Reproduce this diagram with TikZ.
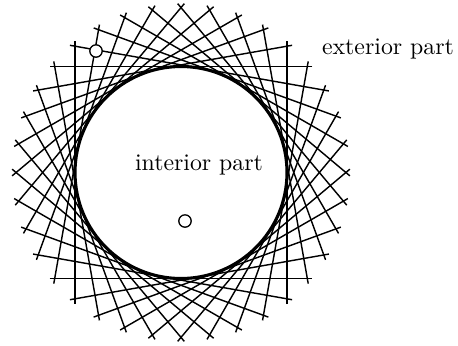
\documentclass[tikz,border=0pt]{standalone}
\begin{document}
\begin{tikzpicture}[x=0.42pt,y=-0.42pt,
  tline/.style={line width=0.6pt},
  bigcirc/.style={line width=1.3pt},
  dot/.style={circle,draw,line width=0.55pt,fill=white,minimum size=5.2pt,inner sep=0pt},
  lbl/.style={inner sep=0pt}]
\useasboundingbox (0,0) rectangle (458,345);
\coordinate (c) at (181,172.5);
\foreach \a in {0,10,...,350}{
  \draw[tline,shift={(c)}] (\a+51.13:168.9) -- (\a-51.13:168.9);
}
\draw[bigcirc] (c) circle[radius=106];
\node[dot] (ext) at (96,51) {};
\node[dot] (int) at (185,221) {};
\node[lbl] (extlbl) at (388,49) {exterior part};
\node[lbl] (intlbl) at (199,165) {interior part};
\end{tikzpicture}
\end{document}
